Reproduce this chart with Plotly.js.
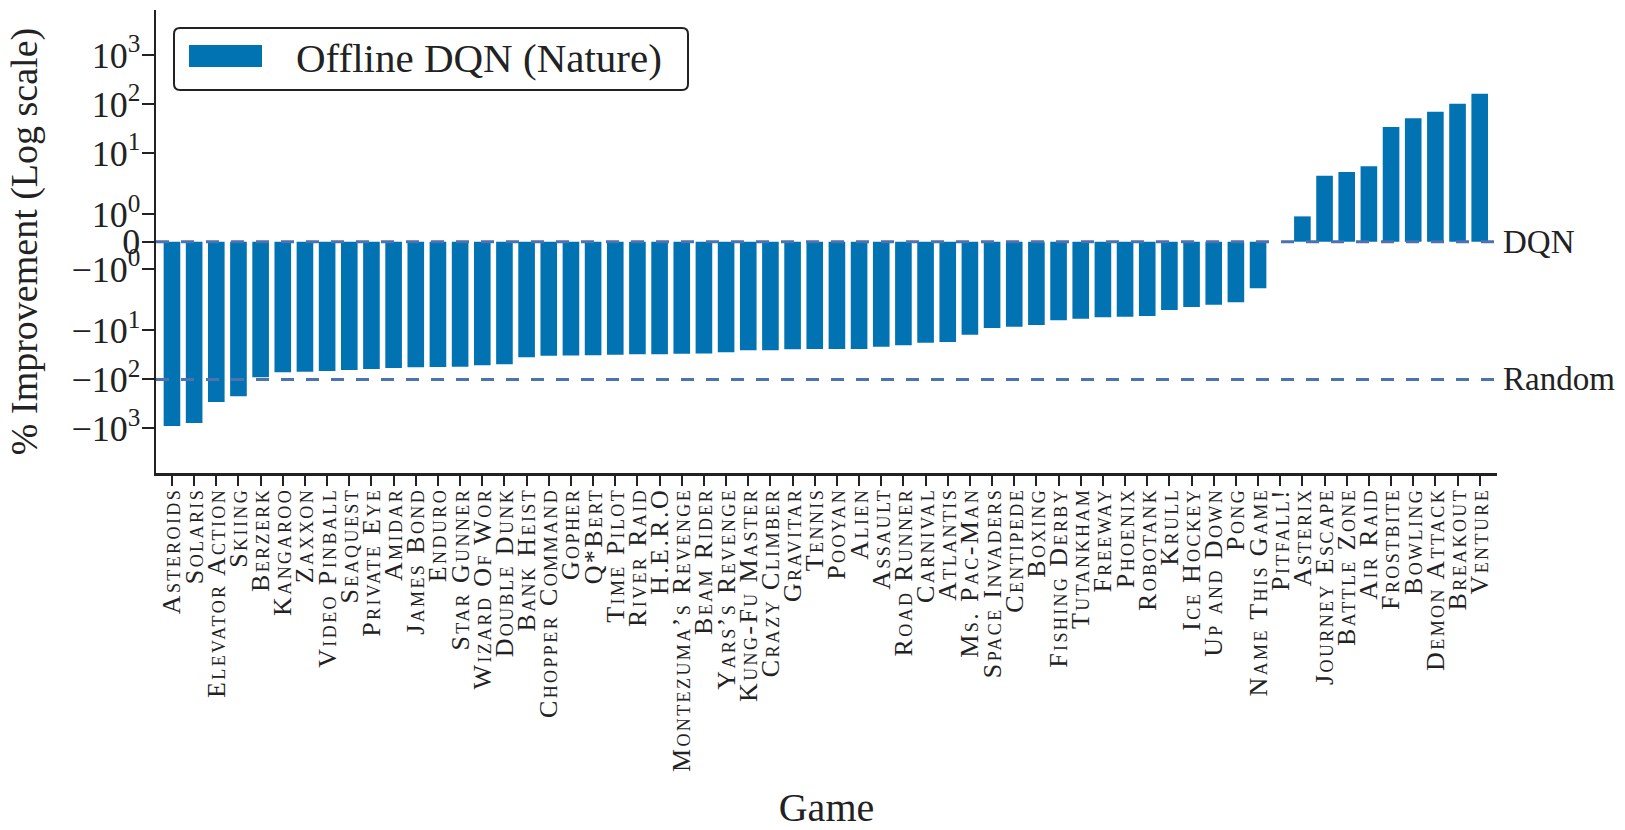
<!DOCTYPE html>
<html>
<head>
<meta charset="utf-8">
<script src="https://cdn.plot.ly/plotly-3.0.1.min.js"></script>
<style>
html,body{margin:0;padding:0;background:#fff;}
#chart{width:1625px;height:830px;}
#chart .xtick text{letter-spacing:2.4px;}
</style>
</head>
<body>
<div id="chart"></div>
<script>
// ---- data ----
const games = ["Asteroids","Solaris","Elevator Action","Skiing","Berzerk","Kangaroo","Zaxxon","Video Pinball","Seaquest","Private Eye","Amidar","James Bond","Enduro","Star Gunner","Wizard Of Wor","Double Dunk","Bank Heist","Chopper Command","Gopher","Q*Bert","Time Pilot","River Raid","H.E.R.O","Montezuma’s Revenge","Beam Rider","Yars’s Revenge","Kung-Fu Master","Crazy Climber","Gravitar","Tennis","Pooyan","Alien","Assault","Road Runner","Carnival","Atlantis","Ms. Pac-Man","Space Invaders","Centipede","Boxing","Fishing Derby","Tutankham","Freeway","Phoenix","Robotank","Krull","Ice Hockey","Up and Down","Pong","Name This Game","Pitfall!","Asterix","Journey Escape","Battle Zone","Air Raid","Frostbite","Bowling","Demon Attack","Breakout","Venture"];
const improvement = [-893,-776,-289,-221,-90.6,-71.6,-69.7,-67.5,-64.3,-61.4,-58.6,-56.6,-56.0,-55.1,-51.6,-49.2,-35.4,-32.9,-32.5,-32.0,-31.3,-30.8,-30.6,-29.9,-29.7,-28.0,-25.5,-25.3,-24.3,-24.0,-24.0,-23.9,-21.5,-20.1,-17.8,-17.3,-12.2,-8.93,-8.41,-7.76,-6.22,-5.77,-5.41,-5.26,-5.08,-3.84,-3.33,-2.99,-2.67,-1.71,0,0.93,3.44,4.09,5.36,34.0,51.1,69.7,101,162];
const seriesName = "Offline DQN (Nature)";
const tickValues = [-1000,-100,-10,-1,0,1,10,100,1000];
const tickLabels = ["−10<sup>3</sup>","−10<sup>2</sup>","−10<sup>1</sup>","−10<sup>0</sup>","0","10<sup>0</sup>","10<sup>1</sup>","10<sup>2</sup>","10<sup>3</sup>"];
const refLevels = [0, -100];
const refNames = ["DQN", "Random"];

// symmetric log scale (linthresh 2, linscale 1)
const LT = 2, LS = 1 / (1 - 1 / 10);
function symlog(v) {
  const a = Math.abs(v);
  if (a <= LT) return v * LS;
  return Math.sign(v) * LT * (LS + Math.log10(a / LT));
}

const FONT = "Liberation Serif, DejaVu Serif, serif";
const INK = "#222";
const BAR = "#0173B2";
const REF = "#4C72B0";

// plot area in pixels (for legend placement)
const M = {l: 156, r: 128, t: 10, b: 357};
const PW = 1625 - M.l - M.r, PH = 830 - M.t - M.b;
const px = x => (x - M.l) / PW;
const py = y => (830 - M.b - y) / PH;

const trace = {
  type: "bar",
  x: games,
  y: improvement.map(symlog),
  name: seriesName,
  width: 0.75,
  marker: {color: BAR, line: {width: 0}},
  showlegend: false,
  hoverinfo: "x+text",
  text: improvement.map(String),
  textposition: "none"
};

const shapes = refLevels.map(v => ({
  type: "line", xref: "paper", yref: "y", x0: 0, x1: 1, y0: symlog(v), y1: symlog(v),
  line: {color: REF, width: 3, dash: "13px,12px"}, layer: "above"
}));
// legend box (rounded) and swatch
const bx0 = px(174), bx1 = px(688), by0 = py(90), by1 = py(28);
const r = 6 / PW, rv = 6 / PH;
shapes.push({
  type: "path", xref: "paper", yref: "paper",
  path: `M ${bx0 + r} ${by0} L ${bx1 - r} ${by0} Q ${bx1} ${by0} ${bx1} ${by0 + rv} L ${bx1} ${by1 - rv} Q ${bx1} ${by1} ${bx1 - r} ${by1} L ${bx0 + r} ${by1} Q ${bx0} ${by1} ${bx0} ${by1 - rv} L ${bx0} ${by0 + rv} Q ${bx0} ${by0} ${bx0 + r} ${by0} Z`,
  line: {color: INK, width: 2}, fillcolor: "rgba(255,255,255,0.9)", layer: "above"
});
shapes.push({
  type: "rect", xref: "paper", yref: "paper",
  x0: px(189), x1: px(262), y0: py(67), y1: py(45),
  line: {width: 0}, fillcolor: BAR, layer: "above"
});

const annotations = refLevels.map((v, i) => ({
  xref: "paper", yref: "y", x: 1, y: symlog(v), xanchor: "left", yanchor: "middle",
  xshift: 4, text: refNames[i], showarrow: false, font: {family: FONT, size: 33, color: INK}
}));
annotations.push({
  xref: "paper", yref: "paper", x: px(294), y: py(58), xanchor: "left", yanchor: "middle",
  text: seriesName, showarrow: false, font: {family: FONT, size: 41, color: INK}
});

const layout = {
  width: 1625, height: 830,
  margin: M,
  paper_bgcolor: "#fff", plot_bgcolor: "#fff",
  font: {family: FONT, color: INK},
  showlegend: false,
  xaxis: {
    type: "category",
    range: [-0.72, 59.78],
    tickmode: "linear", tick0: 0, dtick: 1,
    tickangle: -90,
    ticks: "outside", ticklen: 10, tickwidth: 2, tickcolor: INK,
    ticklabelstandoff: -8,
    showline: true, linewidth: 2.5, linecolor: INK,
    showgrid: false, zeroline: false,
    tickfont: {family: FONT, size: 26, variant: "small-caps", color: INK},
    title: {text: "Game", font: {family: FONT, size: 40, color: INK}, standoff: 74},
    automargin: false
  },
  yaxis: {
    range: [-9.44, 9.457],
    tickmode: "array",
    tickvals: tickValues.map(symlog),
    ticktext: tickLabels,
    ticks: "outside", ticklen: 12, tickwidth: 2, tickcolor: INK,
    ticklabelstandoff: -6,
    showline: true, linewidth: 2.5, linecolor: INK,
    showgrid: false, zeroline: false,
    tickfont: {family: FONT, size: 36, color: INK},
    title: {text: "% Improvement (Log scale)", font: {family: FONT, size: 38, color: INK}, standoff: 22},
    automargin: false
  },
  shapes: shapes,
  annotations: annotations
};

Plotly.newPlot("chart", [trace], layout, {displayModeBar: false, staticPlot: true});
</script>
</body>
</html>
